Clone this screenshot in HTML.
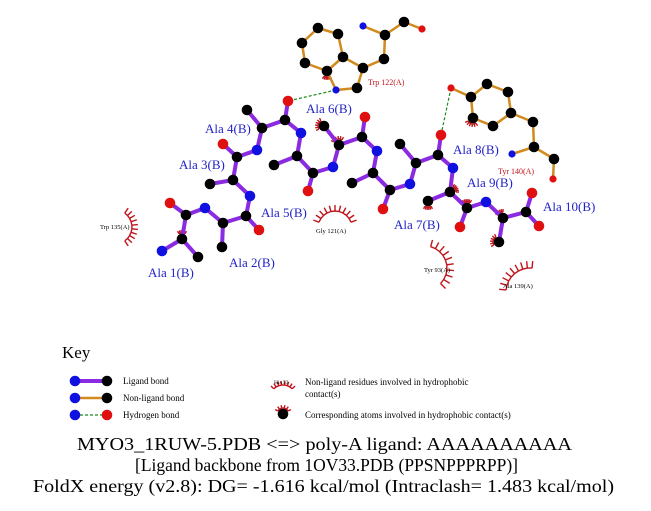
<!DOCTYPE html>
<html><head><meta charset="utf-8"><style>
html,body{margin:0;padding:0;background:#fff;}
svg{display:block;font-family:"Liberation Serif",serif;}
</style></head><body>
<svg id="s" width="651" height="511" viewBox="0 0 651 511" xmlns="http://www.w3.org/2000/svg">
<g id="arcs" stroke="#c0141c" fill="none" stroke-width="1.4"></g>
<g id="bonds" stroke-linecap="round"></g>
<g id="hb" stroke="#1a8a1a" stroke-width="1.2" stroke-dasharray="3,2"></g>
<g id="atoms"></g>
<g font-size="13" fill="#2323c8">
<text x="148" y="277">Ala 1(B)</text>
<text x="229" y="267">Ala 2(B)</text>
<text x="179" y="169">Ala 3(B)</text>
<text x="205" y="133">Ala 4(B)</text>
<text x="261" y="217">Ala 5(B)</text>
<text x="306" y="113">Ala 6(B)</text>
<text x="394" y="229">Ala 7(B)</text>
<text x="453" y="154">Ala 8(B)</text>
<text x="467" y="187">Ala 9(B)</text>
<text x="543" y="211">Ala 10(B)</text>
</g>
<g font-size="8" fill="#c0141c">
<text x="368" y="85">Trp 122(A)</text>
<text x="498" y="174">Tyr 140(A)</text>
</g>
<g font-size="6.5" fill="#000">
<text x="100" y="229">Trp 135(A)</text>
<text x="316" y="233">Gly 121(A)</text>
<text x="424" y="272">Tyr 93(A)</text>
<text x="503" y="288">Ala 139(A)</text>
</g>
<text x="62" y="358" font-size="17">Key</text>
<g font-size="9">
<text x="123" y="384">Ligand bond</text>
<text x="123" y="401">Non-ligand bond</text>
<text x="123" y="418">Hydrogen bond</text>
<text x="305" y="385">Non-ligand residues involved in hydrophobic</text>
<text x="305" y="397">contact(s)</text>
<text x="305" y="418">Corresponding atoms involved in hydrophobic contact(s)</text>
<text x="274" y="384" font-size="5.5">His 53</text>
</g>
<g font-size="18">
<text x="77" y="450" textLength="495" lengthAdjust="spacingAndGlyphs">MYO3_1RUW-5.PDB &lt;=&gt; poly-A ligand: AAAAAAAAAA</text>
<text x="135" y="471" textLength="383" lengthAdjust="spacingAndGlyphs">[Ligand backbone from 1OV33.PDB (PPSNPPPRPP)]</text>
<text x="33" y="492" textLength="581" lengthAdjust="spacingAndGlyphs">FoldX energy (v2.8): DG= -1.616 kcal/mol (Intraclash= 1.483 kcal/mol)</text>
</g>
</svg>
<script>
var NS="http://www.w3.org/2000/svg";
function el(p,t,a){var e=document.createElementNS(NS,t);for(var k in a)e.setAttribute(k,a[k]);document.getElementById(p).appendChild(e);return e;}
var A={N1:[162,251,'b'],CA1:[182,239,'k'],CB1:[198,257,'k'],C1:[186,215,'k'],O1:[170,203,'r'],
N2:[205,208,'b'],CA2:[223,223,'k'],CB2:[222,247,'k'],C2:[246,216,'k'],O2:[259,230,'r'],
N3:[250,196,'b'],CA3:[233,180,'k'],CB3:[210,184,'k'],C3:[237,157,'k'],O3:[223,144,'r'],
N4:[257,150,'b'],CA4:[262,128,'k'],CB4:[247,110,'k'],C4:[285,120,'k'],O4:[288,101,'r'],
N5:[301,133,'b'],CA5:[297,156,'k'],CB5:[274,165,'k'],C5:[313,173,'k'],O5:[308,191,'r'],
N6:[333,167,'b'],CA6:[339,145,'k'],CB6:[324,126,'k'],C6:[362,137,'k'],O6:[365,117,'r'],
N7:[377,151,'b'],CA7:[373,173,'k'],CB7:[352,183,'k'],C7:[390,190,'k'],O7:[383,209,'r'],
N8:[410,184,'b'],CA8:[416,163,'k'],CB8:[400,144,'k'],C8:[438,155,'k'],O8:[441,135,'r'],
N9:[453,168,'b'],CA9:[450,192,'k'],CB9:[428,201,'k'],C9:[467,208,'k'],O9:[460,227,'r'],
N10:[486,202,'b'],CA10:[503,218,'k'],CB10:[499,242,'k'],C10:[526,212,'k'],OA:[532,193,'r'],OB:[539,226,'r']};
var L=[];
for(var i=1;i<=10;i++){L.push(['N'+i,'CA'+i],['CA'+i,'CB'+i],['CA'+i,'C'+i]);if(i<10){L.push(['C'+i,'O'+i],['C'+i,'N'+(i+1)]);}}
L.push(['C10','OA'],['C10','OB']);
var T={a:[302,43,'k'],b:[318,28,'k'],c:[338,34,'k'],d:[343,57,'k'],e:[327,71,'k'],f:[305,63,'k'],NE:[336,90,'bs'],g:[357,88,'k'],h:[363,68,'k'],i:[384,59,'k'],j:[385,35,'k'],N:[363,26,'bs'],kk:[404,22,'k'],O:[422,29,'rs'],
OH:[451,88,'rs'],CZ:[471,97,'k'],r1:[487,84,'k'],r2:[508,92,'k'],r3:[511,113,'k'],r4:[493,126,'k'],r5:[473,118,'k'],CB:[533,122,'k'],CA:[534,147,'k'],YN:[512,154,'bs'],YC:[554,159,'k'],YO:[553,179,'rs']};
var NL=[['a','b'],['b','c'],['c','d'],['d','e'],['e','f'],['f','a'],['e','NE'],['NE','g'],['g','h'],['h','d'],['h','i'],['i','j'],['j','N'],['j','kk'],['kk','O'],
['OH','CZ'],['CZ','r1'],['r1','r2'],['r2','r3'],['r3','r4'],['r4','r5'],['r5','CZ'],['r3','CB'],['CB','CA'],['CA','YN'],['CA','YC'],['YC','YO']];
NL.forEach(function(p){var a=T[p[0]],b=T[p[1]];el('bonds','line',{x1:a[0],y1:a[1],x2:b[0],y2:b[1],stroke:'#d08a1e','stroke-width':2.5});});
L.forEach(function(p){var a=A[p[0]],b=A[p[1]];el('bonds','line',{x1:a[0],y1:a[1],x2:b[0],y2:b[1],stroke:'#8a2be2','stroke-width':4});});
el('hb','line',{x1:336,y1:90,x2:288,y2:101});el('hb','line',{x1:451,y1:88,x2:441,y2:135});
var C={b:'#1010e0',k:'#000',r:'#e01010'};
function atom(p){var c=p[2];var r=c.length>1?3.6:5.3;el('atoms','circle',{cx:p[0],cy:p[1],r:r,fill:C[c[0]]});}
for(var k in A)atom(A[k]);for(var k in T)atom(T[k]);
function arc(cx,cy,r,a0,a1,n,len){var d='';for(var i=0;i<=n;i++){var t=(a0+(a1-a0)*i/n)*Math.PI/180;var x=cx+r*Math.cos(t),y=cy+r*Math.sin(t);d+=(i?'L':'M')+x.toFixed(1)+' '+y.toFixed(1);
el('arcs','line',{x1:x,y1:y,x2:cx+(r+len)*Math.cos(t),y2:cy+(r+len)*Math.sin(t)});}el('arcs','path',{d:d});}
arc(115,227,17,-55,55,9,6);arc(335,228,17,-160,-20,10,6);arc(425,268,22,-75,45,9,7);arc(530,292,24,-175,-85,8,7);
arc(283,398,13,-135,-45,7,4);
function tuft(x,y,r,a0,a1){arc(x,y,r,a0,a1,5,3);}
tuft(182,239,6,-120,-60);tuft(339,145,6,-150,-60);tuft(324,126,6,150,240);tuft(450,192,6,-60,0);tuft(467,208,6,-120,-60);tuft(503,218,6,-150,-90);tuft(499,242,6,150,240);tuft(327,71,6,60,120);tuft(473,118,6,60,150);tuft(428,201,6,60,120);
tuft(283,414,6,-150,-30);
el('bonds','line',{x1:75,y1:381,x2:107,y2:381,stroke:'#8a2be2','stroke-width':4});
el('bonds','line',{x1:75,y1:398,x2:107,y2:398,stroke:'#d08a1e','stroke-width':2.5});
el('hb','line',{x1:75,y1:415,x2:107,y2:415});
[[75,381,'b'],[107,381,'k'],[75,398,'b'],[107,398,'k'],[75,415,'b'],[107,415,'r'],[283,414,'k']].forEach(atom);
</script>
</body></html>
